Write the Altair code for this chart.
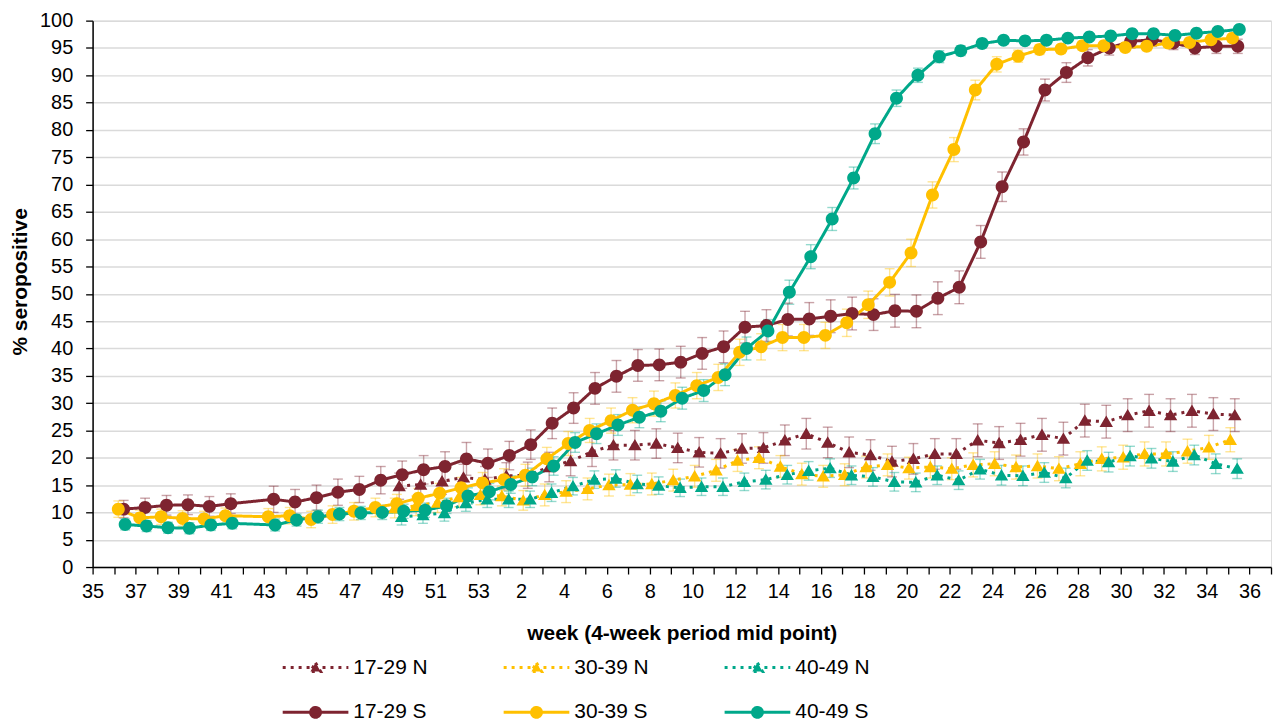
import json
import altair as alt
import pandas as pd

# ---------------- data ----------------
SERIES = ["17-29 N", "30-39 N", "40-49 N", "17-29 S", "30-39 S", "40-49 S"]
COLORS = ["#7E2430", "#FFC000", "#00A88A", "#7E2430", "#FFC000", "#00A88A"]

# axis positions 0..55 -> week numbers shown on the axis
WEEK_LABELS = ["35", "36", "37", "38", "39", "40", "41", "42", "43", "44", "45", "46",
               "47", "48", "49", "50", "51", "52", "53", "1", "2", "3", "4", "5", "6",
               "7", "8", "9", "10", "11", "12", "13", "14", "15", "16", "17", "18", "19",
               "20", "21", "22", "23", "24", "25", "26", "27", "28", "29", "30", "31",
               "32", "33", "34", "35", "36", "37"]
Y_TICKS = [0, 5, 10, 15, 20, 25, 30, 35, 40, 45, 50, 55, 60, 65, 70, 75, 80, 85, 90, 95, 100]

# period index (weeks after week 35) of each 4-week period
S_PERIODS = [1, 2, 3, 4, 5, 6, 8, 9, 10, 11, 12, 13, 14, 15, 16, 17, 18, 19, 20, 21,
             22, 23, 24, 25, 26, 27, 28, 29, 30, 31, 32, 33, 34, 35, 36, 37, 38, 39, 40,
             41, 42, 43, 44, 45, 46, 47, 48, 49, 50, 51, 52, 53]
N_PERIODS = [14, 15, 16, 17, 18, 19, 20, 21, 22, 23, 24, 25, 26, 27, 28, 29, 30, 31, 32,
             33, 34, 35, 36, 37, 38, 39, 40, 41, 42, 43, 44, 45, 46, 47, 48, 49, 50, 51,
             52, 53]
# mid point of each group's sampling period inside the week
MID_POINT = {"17-29 N": 0.31, "30-39 N": 0.10, "40-49 N": 0.42,
             "17-29 S": 0.45, "30-39 S": 0.20, "40-49 S": 0.52}

RED_S = [10.6, 10.9, 11.3, 11.4, 11.1, 11.6, 12.4, 11.9, 12.7, 13.7, 14.2, 15.9, 16.9,
         17.8, 18.4, 19.8, 19.0, 20.4, 22.4, 26.3, 29.1, 32.7, 34.9, 36.9, 37.0, 37.5,
         39.1, 40.3, 43.9, 44.2, 45.3, 45.4, 45.9, 46.4, 46.2, 46.9, 46.8, 49.2, 51.2,
         59.5, 69.6, 77.8, 87.3, 90.5, 93.2, 95.0, 96.2, 96.5, 95.9, 95.0, 95.3, 95.3]
YEL_S = [10.6, 9.0, 9.2, 8.9, 8.8, 9.4, 9.2, 9.4, 8.7, 9.6, 10.2, 10.9, 11.6, 12.6, 13.5,
         14.5, 15.4, 16.0, 16.8, 19.8, 22.6, 25.0, 26.8, 28.7, 29.9, 31.4, 33.2, 34.7,
         39.3, 40.3, 42.0, 42.0, 42.4, 44.7, 48.0, 52.1, 57.5, 68.1, 76.4, 87.3, 92.0,
         93.5, 94.7, 94.8, 95.4, 95.4, 95.1, 95.3, 95.9, 96.0, 96.5, 96.8]
TEA_S = [7.8, 7.5, 7.2, 7.1, 7.7, 8.0, 7.7, 8.6, 9.2, 9.7, 9.9, 10.0, 10.2, 10.4, 11.2,
         13.0, 13.8, 15.1, 16.5, 18.5, 22.8, 24.4, 26.0, 27.4, 28.5, 30.9, 32.3, 35.2,
         40.0, 43.2, 50.3, 56.8, 63.7, 71.2, 79.3, 85.8, 90.0, 93.4, 94.5, 95.8, 96.4,
         96.3, 96.4, 96.8, 97.0, 97.2, 97.6, 97.6, 97.3, 97.7, 98.0, 98.4]
RED_N = [14.8, 15.1, 15.7, 16.4, 16.0, 16.7, 16.8, 18.3, 19.4, 21.1, 22.3, 22.3, 22.6,
         21.8, 21.0, 20.8, 21.7, 21.8, 23.2, 24.4, 22.8, 21.0, 20.5, 19.3, 19.8, 20.7,
         20.7, 23.2, 22.7, 23.3, 24.2, 23.5, 26.8, 26.6, 27.8, 28.6, 27.8, 28.6, 28.0, 27.8]
YEL_N = [10.8, 11.2, 11.8, 12.8, 13.2, 13.0, 12.2, 13.2, 13.8, 14.3, 15.0, 15.1, 15.2,
         15.9, 16.6, 17.7, 19.5, 20.0, 18.4, 17.0, 16.6, 16.9, 18.3, 18.7, 18.1, 18.3,
         18.0, 18.7, 18.9, 18.3, 18.5, 18.0, 18.9, 19.8, 20.1, 20.7, 20.7, 21.2, 21.9, 23.3]
TEA_N = [9.2, 9.5, 9.9, 11.7, 12.4, 12.4, 12.4, 13.6, 14.8, 16.0, 16.2, 15.2, 14.9, 14.5,
         14.7, 14.7, 15.6, 16.0, 16.9, 17.6, 18.1, 16.8, 16.5, 15.6, 15.5, 16.8, 15.9,
         17.9, 16.8, 16.7, 17.3, 16.3, 19.5, 19.2, 20.3, 19.9, 19.3, 20.5, 18.9, 18.0]

# half width of the 95% confidence intervals
RED_S_CI = [1.6, 1.7, 1.8, 1.8, 1.8, 1.8, 2.4, 2.3, 2.3, 2.4, 2.4, 2.5, 2.5, 2.6, 2.7,
            3.0, 2.6, 2.6, 2.7, 2.8, 2.8, 2.9, 2.9, 2.9, 2.9, 2.9, 2.9, 2.9, 2.9, 2.9,
            3.0, 3.0, 3.0, 3.0, 2.9, 3.0, 3.0, 3.0, 3.0, 3.0, 2.7, 2.4, 2.0, 1.8, 1.5,
            1.3, 1.2, 1.2, 1.2, 1.2, 1.3, 1.3]
YEL_S_CI = [1.5, 1.4, 1.4, 1.4, 1.4, 1.4, 1.5, 1.5, 1.5, 1.6, 1.6, 1.7, 1.7, 1.8, 1.8,
            1.9, 1.9, 2.0, 2.0, 2.1, 2.2, 2.2, 2.3, 2.3, 2.3, 2.3, 2.4, 2.4, 2.4, 2.4,
            2.4, 2.4, 2.4, 2.5, 2.5, 2.5, 2.5, 2.4, 2.2, 1.8, 1.4, 1.1, 0.9, 0.8, 0.8,
            0.8, 0.8, 0.8, 0.8, 0.8, 0.8, 0.8]
TEA_S_CI = [1.0, 1.0, 1.0, 1.0, 1.0, 1.0, 1.1, 1.1, 1.2, 1.2, 1.2, 1.3, 1.3, 1.3, 1.4,
            1.5, 1.5, 1.6, 1.6, 1.7, 1.8, 1.8, 1.9, 1.9, 1.9, 2.0, 2.0, 2.0, 2.1, 2.1,
            2.2, 2.2, 2.1, 2.0, 1.8, 1.5, 1.3, 1.1, 0.9, 0.8, 0.7, 0.7, 0.7, 0.6, 0.6,
            0.6, 0.6, 0.6, 0.6, 0.6, 0.6, 0.6]
RED_N_CI = [2.4, 2.4, 2.4, 2.4, 2.4, 2.4, 2.4, 2.7, 2.7, 2.7, 2.7, 2.7, 2.7, 2.7, 2.7,
            2.7, 2.7, 2.8, 2.8, 2.8, 2.8, 2.8, 2.8, 2.8, 2.8, 2.8, 2.8, 3.0, 3.0, 3.0,
            3.0, 3.0, 3.0, 3.0, 3.0, 3.0, 3.0, 3.0, 3.0, 3.0]
YEL_N_CI = [1.8, 1.8, 1.8, 1.8, 1.8, 1.8, 1.8, 2.0, 2.0, 2.0, 2.0, 2.0, 2.0, 2.0, 2.0,
            2.0, 2.0, 2.0, 2.0, 2.0, 2.0, 2.0, 2.0, 2.0, 2.0, 2.0, 2.0, 2.2, 2.2, 2.2,
            2.2, 2.2, 2.2, 2.2, 2.2, 2.2, 2.2, 2.2, 2.2, 2.2]
TEA_N_CI = [1.5, 1.5, 1.5, 1.5, 1.5, 1.5, 1.5, 1.6, 1.6, 1.6, 1.6, 1.6, 1.6, 1.6, 1.6,
            1.6, 1.6, 1.7, 1.7, 1.7, 1.7, 1.7, 1.7, 1.7, 1.7, 1.7, 1.7, 1.8, 1.8, 1.8,
            1.8, 1.8, 1.8, 1.8, 1.8, 1.8, 1.8, 1.8, 1.8, 1.8]

VALUES = {"17-29 N": RED_N, "30-39 N": YEL_N, "40-49 N": TEA_N,
          "17-29 S": RED_S, "30-39 S": YEL_S, "40-49 S": TEA_S}
HALF_CI = {"17-29 N": RED_N_CI, "30-39 N": YEL_N_CI, "40-49 N": TEA_N_CI,
           "17-29 S": RED_S_CI, "30-39 S": YEL_S_CI, "40-49 S": TEA_S_CI}

# ---------------- table ----------------
CAP = 0.23  # half width of the error-bar caps, in weeks
SERIES_COLOR = dict(zip(SERIES, COLORS))
rows = []
for s in SERIES:
    periods = N_PERIODS if s.endswith("N") else S_PERIODS
    for p, v, e in zip(periods, VALUES[s], HALF_CI[s]):
        x = p + MID_POINT[s]
        rows.append({"series": s, "ci_color": SERIES_COLOR[s], "x": x, "value": v,
                     "lo": v - e, "hi": v + e, "xl": x - CAP, "xr": x + CAP})
df = pd.DataFrame(rows)

# marker paths: a legend line (never stroked in the plot) plus the marker itself
TRI = "M-2,0H2M0,-0.29L0.31,0.24L-0.31,0.24Z"
CIRC = "M-2,0H2M0.3,0A0.3,0.3,0,1,1,-0.3,0A0.3,0.3,0,1,1,0.3,0Z"
SHAPES = [TRI, TRI, TRI, CIRC, CIRC, CIRC]
DASHES = [[3, 5], [3, 5], [3, 5], [1, 0], [1, 0], [1, 0]]

FONT = "Liberation Sans"

label_expr = "datum.value % 2 ? '' : " + json.dumps(WEEK_LABELS) + "[datum.value]"
xscale = alt.Scale(domain=[0, 55], nice=False, zero=False)
yscale = alt.Scale(domain=[0, 100], nice=False, zero=True)
xaxis = alt.Axis(values=list(range(len(WEEK_LABELS))), labelExpr=label_expr,
                 title="week (4-week period mid point)", grid=False, tickSize=7,
                 tickColor="#000000", domainColor="#000000", domainWidth=1.5, tickWidth=1.3,
                 labelPadding=8, labelFontSize=20, labelFont=FONT, labelColor="#000000",
                 labelFlush=False, labelOverlap=False, titleFont=FONT, titleFontSize=21,
                 titleFontWeight="bold", titleColor="#000000", titlePadding=21)
yaxis = alt.Axis(values=Y_TICKS, title="% seropositive", grid=True, gridColor="#DADADA",
                 gridWidth=1.5, tickSize=7, tickColor="#000000", domainColor="#000000",
                 domainWidth=1.5, tickWidth=1.3, labelPadding=13, labelFontSize=20,
                 labelFont=FONT, labelColor="#000000", labelFlush=False, labelOverlap=False,
                 titleFont=FONT, titleFontSize=21, titleFontWeight="bold",
                 titleColor="#000000", titlePadding=9, titleY=262)

legend = alt.Legend(orient="none", legendX=206, legendY=632, direction="horizontal",
                    columns=3, symbolSize=1089, symbolStrokeWidth=3, labelFontSize=21,
                    labelFont=FONT, labelColor="#000000", labelOffset=20,
                    columnPadding=70, rowPadding=17, padding=0)

base = alt.Chart(df)
ci_stroke = alt.Stroke("ci_color:N", scale=None)

err = base.mark_rule(strokeWidth=1.4, strokeOpacity=0.42).encode(
    x=alt.X("x:Q", scale=xscale, axis=xaxis),
    y=alt.Y("lo:Q", scale=yscale, axis=yaxis),
    y2="hi:Q",
    stroke=ci_stroke,
)
cap_lo = base.mark_rule(strokeWidth=1.4, strokeOpacity=0.42).encode(
    x=alt.X("xl:Q", scale=xscale, axis=xaxis), x2="xr:Q",
    y=alt.Y("lo:Q", scale=yscale, axis=yaxis),
    stroke=ci_stroke,
)
cap_hi = base.mark_rule(strokeWidth=1.4, strokeOpacity=0.42).encode(
    x=alt.X("xl:Q", scale=xscale, axis=xaxis), x2="xr:Q",
    y=alt.Y("hi:Q", scale=yscale, axis=yaxis),
    stroke=ci_stroke,
)
lines = base.mark_line(strokeWidth=3).encode(
    x=alt.X("x:Q", scale=xscale, axis=xaxis),
    y=alt.Y("value:Q", scale=yscale, axis=yaxis),
    color=alt.Color("series:N", scale=alt.Scale(domain=SERIES, range=COLORS),
                    legend=legend, title=None),
    strokeDash=alt.StrokeDash("series:N", scale=alt.Scale(domain=SERIES, range=DASHES),
                              legend=legend, title=None),
)
points = base.mark_point(filled=True, size=1880, opacity=1).encode(
    x=alt.X("x:Q", scale=xscale, axis=xaxis),
    y=alt.Y("value:Q", scale=yscale, axis=yaxis),
    fill=alt.Fill("series:N", scale=alt.Scale(domain=SERIES, range=COLORS),
                  legend=legend, title=None),
    shape=alt.Shape("series:N", scale=alt.Scale(domain=SERIES, range=SHAPES),
                    legend=legend, title=None),
)

chart = alt.layer(err, cap_lo, cap_hi, lines, points).properties(
    width=1184, height=549,
    autosize=alt.AutoSizeParams(type="none"),
    padding={"left": 85, "top": 11, "right": 3, "bottom": 155},
).configure_view(strokeWidth=0).configure(font=FONT)

chart.save("out.html", embed_options={"renderer": "svg", "actions": False})
